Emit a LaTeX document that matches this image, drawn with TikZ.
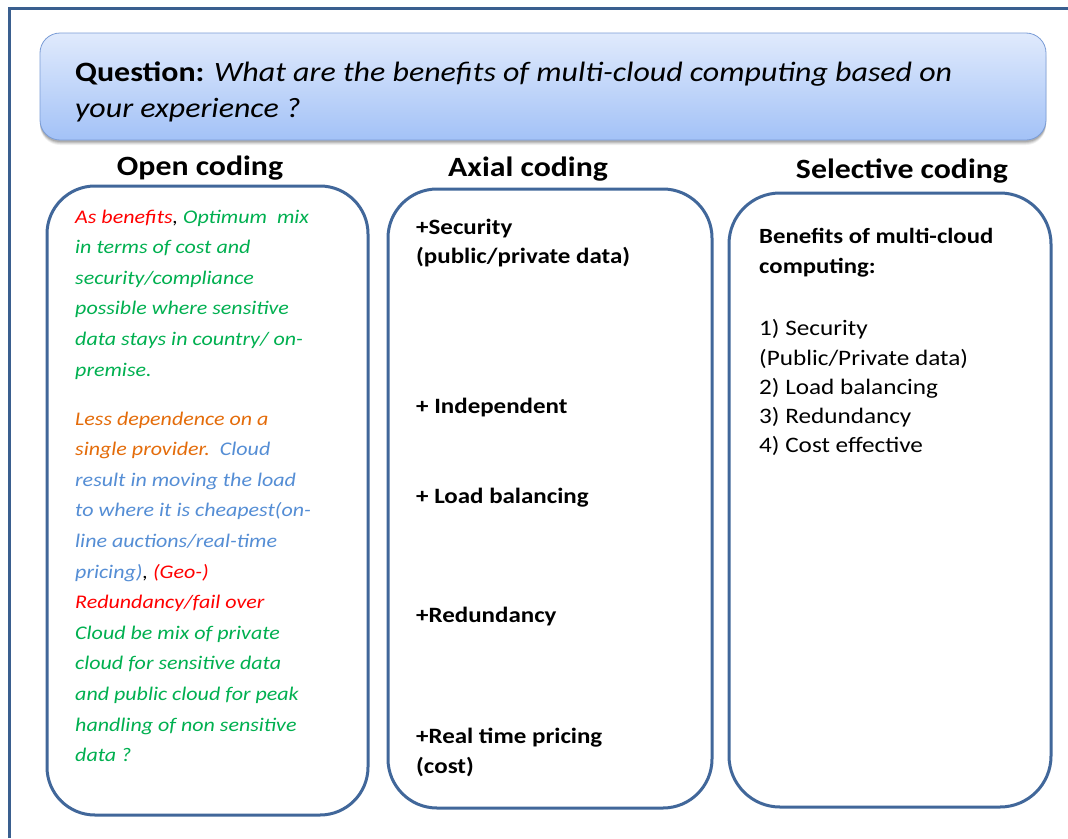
\documentclass[tikz,border=0pt]{standalone}
\usepackage{fontspec}
\setmainfont{Carlito}[FakeStretch=1.14]
\definecolor{frame}{HTML}{3A5F8F}
\definecolor{boxline}{HTML}{41679A}
\definecolor{qtop}{HTML}{E0EAFC}
\definecolor{qbot}{HTML}{A3C2F7}
\definecolor{qline}{HTML}{7A9CD6}
\definecolor{cred}{HTML}{FF0000}
\definecolor{cgreen}{HTML}{00B050}
\definecolor{corange}{HTML}{E46C0A}
\definecolor{cblue}{HTML}{558ED5}
\begin{document}
\begin{tikzpicture}[x=1pt,y=-1pt,
 lt/.style={anchor=base west, inner sep=0pt, font=\fontsize{19.3}{22}\selectfont\itshape},
 mt/.style={anchor=base west, inner sep=0pt, font=\fontsize{21.9}{26}\selectfont\bfseries},
 rt/.style={anchor=base west, inner sep=0pt, font=\fontsize{22.1}{26}\selectfont},
 rtb/.style={anchor=base west, inner sep=0pt, font=\fontsize{21.7}{26}\selectfont\bfseries},
 hd/.style={anchor=base, inner sep=0pt, font=\fontsize{27.9}{32}\selectfont\bfseries},
 qt/.style={anchor=base west, inner sep=0pt, font=\fontsize{28}{34}\selectfont},
 colbox/.style={draw=boxline, line width=3pt, rectangle, inner sep=0pt, outer sep=0pt},
 qbox/.style={draw=qline, line width=0.8pt, rectangle, rounded corners=20pt, top color=qtop, bottom color=qbot, inner sep=0pt},
]
\useasboundingbox (0,0) rectangle (1068,838);
\fill[white] (0,0) rectangle (1068,838);
\draw[frame, line width=3pt] (9,838) -- (9,8) -- (1068,8);

% shadow of question box
\foreach \o/\a in {5/0.06,4/0.08,3/0.10,2/0.12}
  \fill[black, opacity=\a, rounded corners=20pt] (40,{33+\o}) rectangle (1046,{140+\o});
\node[qbox, minimum width=1006pt, minimum height=107pt] (q) at (543,86.5) {};
\node[qt] (q1) at (75,81) {\textbf{Question:} \textit{What are the benefits of multi-cloud computing based on}};
\node[qt] (q2) at (75,117) {\textit{your experience ?}};

% headings
\node[hd] (h1) at (200,175) {Open coding};
\node[hd] (h2) at (528,176) {Axial coding};
\node[hd] (h3) at (902,178) {Selective coding};

% column boxes
\node[colbox, rounded corners=48pt, minimum width=321pt, minimum height=629pt] (open) at (207.5,500.5) {};
\node[colbox, rounded corners=49pt, minimum width=324pt, minimum height=619pt] (axial) at (550,498.5) {};
\node[colbox, rounded corners=51pt, minimum width=322pt, minimum height=614pt] (sel) at (890,500) {};

% open coding text
\node[lt] (l1) at (75,223) {\textcolor{cred}{As benefits}, \textcolor{cgreen}{Optimum\ \ mix}};
\node[lt, cgreen] (l2) at (75,253.6) {in terms of cost and};
\node[lt, cgreen] (l3) at (75,284.2) {security/compliance};
\node[lt, cgreen] (l4) at (75,314.8) {possible where sensitive};
\node[lt, cgreen] (l5) at (75,345.4) {data stays in country/ on-};
\node[lt, cgreen] (l6) at (75,376) {premise.};
\node[lt] (l7) at (75,425) {\textcolor{corange}{Less dependence on a}};
\node[lt] (l8) at (75,455.6) {\textcolor{corange}{single provider.}\ \ \textcolor{cblue}{Cloud}};
\node[lt, cblue] (l9) at (75,486.2) {result in moving the load};
\node[lt, cblue] (l10) at (75,516.8) {to where it is cheapest(on-};
\node[lt, cblue] (l11) at (75,547.4) {line auctions/real-time};
\node[lt] (l12) at (75,578) {\textcolor{cblue}{pricing)}, \textcolor{cred}{(Geo-)}};
\node[lt, cred] (l13) at (75,608.6) {Redundancy/fail over};
\node[lt, cgreen] (l14) at (75,639.2) {Cloud be mix of private};
\node[lt, cgreen] (l15) at (75,669.8) {cloud for sensitive data};
\node[lt, cgreen] (l16) at (75,700.4) {and public cloud for peak};
\node[lt, cgreen] (l17) at (75,731) {handling of non sensitive};
\node[lt, cgreen] (l18) at (75,761.6) {data ?};

% axial coding text
\node[mt] (m1) at (416,234) {+Security};
\node[mt] (m2) at (416,263) {(public/private data)};
\node[mt] (m3) at (416,413) {+ Independent};
\node[mt] (m4) at (416,503) {+ Load balancing};
\node[mt] (m5) at (416,622) {+Redundancy};
\node[mt] (m6) at (416,743) {+Real time pricing};
\node[mt] (m7) at (416,773) {(cost)};

% selective coding text
\node[rtb] (r1) at (759,243) {Benefits of multi-cloud};
\node[rtb] (r2) at (759,273) {computing:};
\node[rt] (r3) at (759,335) {1) Security};
\node[rt] (r4) at (759,365) {(Public/Private data)};
\node[rt] (r5) at (759,394) {2) Load balancing};
\node[rt] (r6) at (759,423) {3) Redundancy};
\node[rt] (r7) at (759,452) {4) Cost effective};
\end{tikzpicture}
\end{document}
